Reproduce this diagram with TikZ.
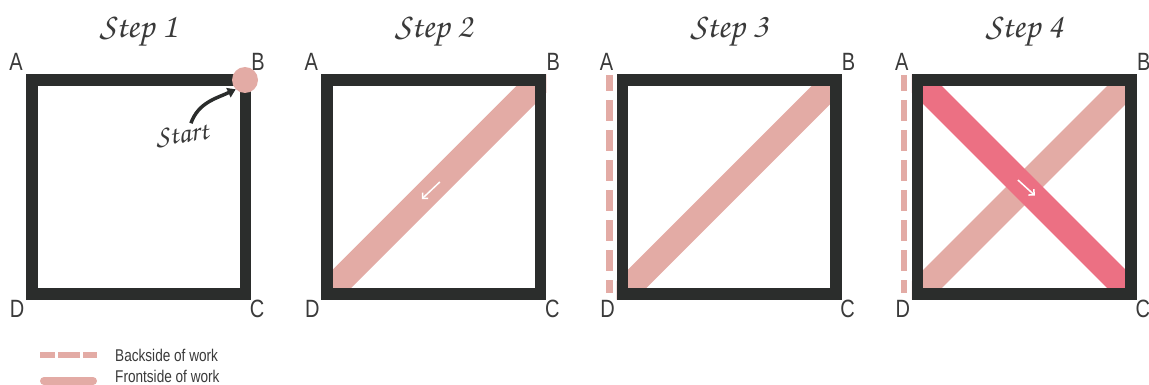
\documentclass[tikz,border=0pt]{standalone}
\usepackage[T1]{fontenc}
\usepackage{fontspec}
\setmainfont{Liberation Sans}
\newfontfamily\condfont{Liberation Sans}[FakeStretch=0.8]
\newcommand\handfont{\fontencoding{T1}\fontfamily{pzc}\fontseries{mb}\fontshape{it}\selectfont}
\usetikzlibrary{arrows.meta,positioning,backgrounds}
\definecolor{edge}{HTML}{2B2D2C}
\definecolor{blush}{HTML}{E3ABA5}
\definecolor{rose}{HTML}{EC7083}
\definecolor{ink}{HTML}{3A3A3A}
\tikzset{
  frame/.style={draw=edge, line width=11.5pt, minimum size=213.5pt, inner sep=0pt},
  corner/.style={font=\condfont\fontsize{25}{25}\selectfont, text=ink, inner sep=0pt},
  title/.style={font=\handfont\fontsize{35}{35}\selectfont, text=ink, inner sep=0pt},
  hand/.style={font=\handfont\fontsize{29}{29}\selectfont, text=ink, inner sep=0pt},
  legend/.style={font=\condfont\fontsize{17}{17}\selectfont, text=ink, inner sep=0pt, anchor=west},
  front/.style={draw=blush, line width=26pt},
  second/.style={draw=rose, line width=26pt},
  back/.style={draw=blush, line width=6.5pt, dash pattern=on 21pt off 9pt, dash phase=5pt},
  legback/.style={draw=blush, line width=6pt, dash pattern=on 22pt off 3pt, dash phase=7pt},
  legfront/.style={draw=blush, line width=8pt, line cap=round},
  dir/.style={draw=white, line width=1.5pt, -{Straight Barb[length=4pt,width=8pt]}},
  startarr/.style={draw=edge, line width=3.5pt, -{Triangle[length=8pt,width=10pt]}},
  dot/.style={circle, fill=blush, minimum size=26pt, inner sep=0pt},
}
\begin{document}
\begin{tikzpicture}[x=1pt, y=1pt, node distance=70.3pt]
\useasboundingbox (0,0) rectangle (1149,-385);

% the four squares
\node[frame] (sq1) at (138.5,-187) {};
\node[frame, right=of sq1] (sq2) {};
\node[frame, right=of sq2] (sq3) {};
\node[frame, right=of sq3] (sq4) {};

% titles
\node[title] (t1) at ([yshift=42pt]sq1.north) {Step 1};
\node[title] (t2) at ([yshift=42pt]sq2.north) {Step 2};
\node[title] (t3) at ([yshift=42pt]sq3.north) {Step 3};
\node[title] (t4) at ([yshift=42pt]sq4.north) {Step 4};

% corner letters
\node[corner] (a1) at ([shift={(-10,12.5)}]sq1.north west) {A};
\node[corner] (b1) at ([shift={(7,12.5)}]sq1.north east) {B};
\node[corner] (c1) at ([shift={(6,-9.5)}]sq1.south east) {C};
\node[corner] (d1) at ([shift={(-9,-9.5)}]sq1.south west) {D};
\node[corner] (a2) at ([shift={(-10,12.5)}]sq2.north west) {A};
\node[corner] (b2) at ([shift={(7,12.5)}]sq2.north east) {B};
\node[corner] (c2) at ([shift={(6,-9.5)}]sq2.south east) {C};
\node[corner] (d2) at ([shift={(-9,-9.5)}]sq2.south west) {D};
\node[corner] (a3) at ([shift={(-10,12.5)}]sq3.north west) {A};
\node[corner] (b3) at ([shift={(7,12.5)}]sq3.north east) {B};
\node[corner] (c3) at ([shift={(6,-9.5)}]sq3.south east) {C};
\node[corner] (d3) at ([shift={(-9,-9.5)}]sq3.south west) {D};
\node[corner] (a4) at ([shift={(-10,12.5)}]sq4.north west) {A};
\node[corner] (b4) at ([shift={(7,12.5)}]sq4.north east) {B};
\node[corner] (c4) at ([shift={(6,-9.5)}]sq4.south east) {C};
\node[corner] (d4) at ([shift={(-9,-9.5)}]sq4.south west) {D};

% step 1: start point
\node[dot] (dot) at ([shift={(-6,-5.5)}]sq1.north east) {};
\node[hand, rotate=8] (start) at (182,-135) {Start};
\draw[startarr] ([shift={(-16,-2)}]start.north east) to[out=70, in=205] (dot.south west);

% diagonals, under the frames
\begin{scope}[on background layer]
  \begin{scope}
    \clip (sq2.north west) rectangle (sq2.south east);
    \draw[front] (sq2.south west) -- (sq2.north east);
  \end{scope}
  \begin{scope}
    \clip (sq3.north west) rectangle (sq3.south east);
    \draw[front] (sq3.south west) -- (sq3.north east);
  \end{scope}
  \begin{scope}
    \clip (sq4.north west) rectangle (sq4.south east);
    \draw[front] (sq4.south west) -- (sq4.north east);
    \draw[second] (sq4.north west) -- (sq4.south east);
  \end{scope}
\end{scope}

% direction marks
\coordinate (m2a) at ([shift={(6,5)}]sq2.center);
\coordinate (m2b) at ([shift={(-12,-12)}]sq2.center);
\draw[dir] (m2a) -- (m2b);
\coordinate (m4a) at ([shift={(-6.5,7)}]sq4.center);
\coordinate (m4b) at ([shift={(10.5,-8.5)}]sq4.center);
\draw[dir] (m4a) -- (m4b);

% backside stitches along A-D
\coordinate (bk3a) at ([shift={(-7,-0.5)}]sq3.north west);
\coordinate (bk3b) at ([shift={(-7,6.5)}]sq3.south west);
\draw[back] (bk3a) -- (bk3b);
\coordinate (bk4a) at ([shift={(-8,-0.5)}]sq4.north west);
\coordinate (bk4b) at ([shift={(-8,6.5)}]sq4.south west);
\draw[back] (bk4a) -- (bk4b);

% legend
\node[legend] (backtxt) at (115,-355) {Backside of work};
\node[legend] (fronttxt) at (115,-376) {Frontside of work};
\draw[legback] ([xshift=-75pt]backtxt.west) -- ([xshift=-18pt]backtxt.west);
\draw[legfront] ([shift={(-71,-5)}]fronttxt.west) -- ([shift={(-22,-5)}]fronttxt.west);
\end{tikzpicture}
\end{document}
